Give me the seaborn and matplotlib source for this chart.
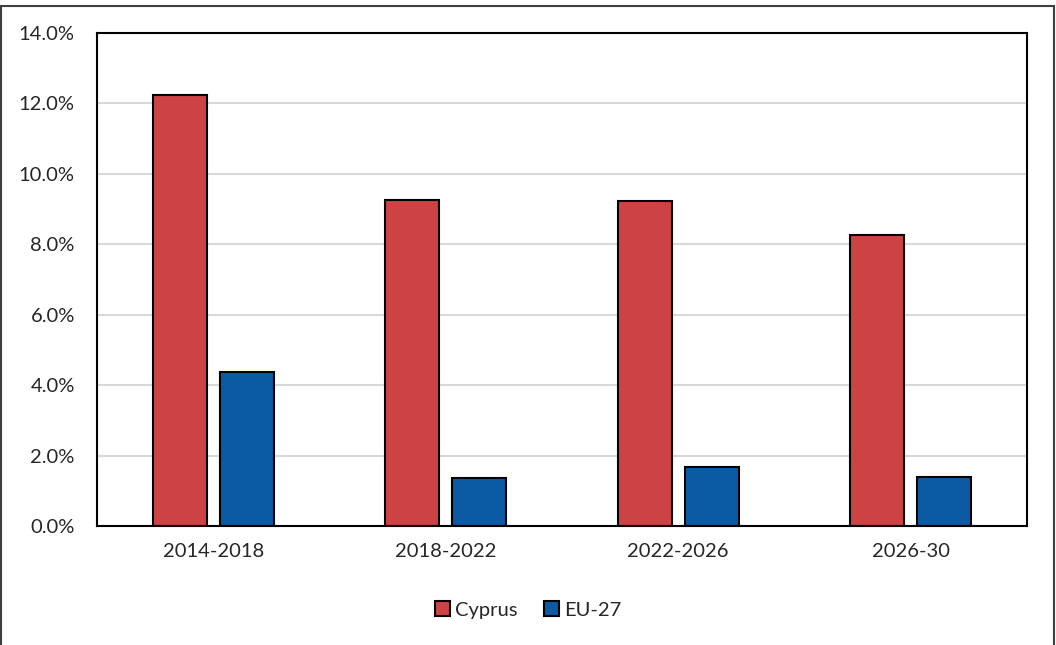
import matplotlib
matplotlib.use("Agg")
import matplotlib.pyplot as plt
import seaborn as sns
import pandas as pd
from matplotlib.ticker import FuncFormatter, MultipleLocator
from matplotlib.patches import Rectangle

categories = ["2014-2018", "2018-2022", "2022-2026", "2026-30"]
cyprus = [12.25, 9.25, 9.22, 8.25]
eu27 = [4.37, 1.35, 1.67, 1.39]
series_names = ["Cyprus", "EU-27"]
colors = ["#CD4242", "#0B5AA4"]

df = pd.DataFrame({
    "period": categories * 2,
    "value": cyprus + eu27,
    "series": [series_names[0]] * len(categories) + [series_names[1]] * len(categories),
})

sns.set_theme(style="white")
plt.rcParams["font.family"] = ["Lato", "DejaVu Sans"]

fig = plt.figure(figsize=(10.56, 6.45), dpi=100)
ax = fig.add_axes([97/1056, 1-526/645, 930/1056, 493/645])

sns.barplot(data=df, x="period", y="value", hue="series", palette=colors,
            saturation=1, width=0.576, gap=0.19, edgecolor="black", linewidth=1.5,
            ax=ax, legend=True)

ax.set_ylim(0, 14)
ax.yaxis.set_major_locator(MultipleLocator(2))
ax.yaxis.set_major_formatter(FuncFormatter(lambda v, p: f"{v:.1f}%"))
ax.grid(axis="y", color="#D9D9D9", linewidth=1.5)
ax.set_axisbelow(True)
ax.set_xlabel("")
ax.set_ylabel("")
for s in ax.spines.values():
    s.set_color("black")
    s.set_linewidth(1.5)
ax.tick_params(axis="both", labelsize=14.5, colors="#262626", length=0)
ax.tick_params(axis="y", pad=16)
ax.tick_params(axis="x", pad=12)

handles, labels = ax.get_legend_handles_labels()
ax.legend(handles, labels, loc="center", bbox_to_anchor=(0.5, 1-610/645),
          bbox_transform=fig.transFigure, ncol=2, frameon=False, fontsize=14.5,
          handlelength=0.75, handleheight=0.75, handletextpad=0.25, columnspacing=1.3)
for h in ax.get_legend().legend_handles:
    h.set_edgecolor("black")
    h.set_linewidth(1.5)

fig.patches.append(Rectangle((0.001, -0.01), 0.997, 1.0, transform=fig.transFigure,
                             fill=False, edgecolor="#404040", linewidth=1.5, zorder=10))

fig.savefig("out.png", dpi=100)
